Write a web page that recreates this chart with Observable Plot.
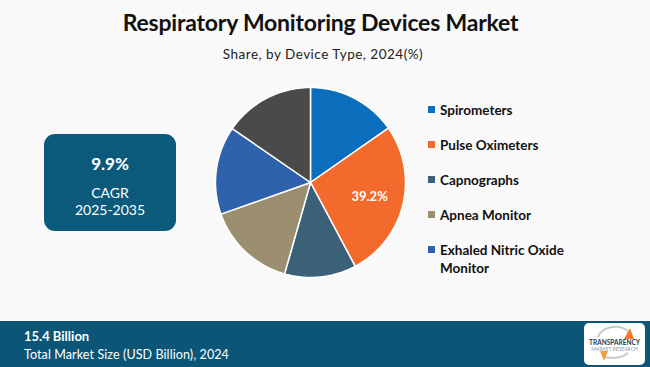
<!DOCTYPE html>
<html>
<head>
<meta charset="utf-8">
<script src="https://cdn.jsdelivr.net/npm/d3@7"></script>
<script src="https://cdn.jsdelivr.net/npm/@observablehq/plot@0.6"></script>
<style>
  html, body { margin: 0; padding: 0; }
  #wrap { position: relative; width: 650px; height: 367px; background: #f9f9f9; overflow: hidden; font-family: Lato, "Open Sans", sans-serif; }
  #chart { position: absolute; left: 0; top: 0; }
  .abs { position: absolute; white-space: nowrap; }
  #title { left: 0; width: 641px; top: 8px; text-align: center; font-weight: 700; font-size: 23px; color: #111; letter-spacing: -0.2px; }
  #subtitle { left: 0; width: 646px; top: 46px; text-align: center; font-size: 13.5px; letter-spacing: 0.5px; color: #222; }
  #cagr { left: 44px; top: 134px; width: 132px; height: 97px; background: #0b5a7c; border-radius: 11px; color: #fff; text-align: center; }
  #band { left: 0; top: 321px; width: 650px; height: 46px; background: #0b5577; }
  .leg { position: absolute; left: 428px; font-weight: 700; font-size: 13.5px; color: #111; line-height: 18px; }
  .sw { position: absolute; left: 0; top: 5px; width: 7px; height: 7px; }
  .leg span.t { display: block; margin-left: 12px; }
  #logo { left: 584px; top: 323px; width: 61px; height: 42px; background: #fff; border-radius: 5px; }
</style>
</head>
<body>
<div id="wrap">
  <div id="chart"></div>
  <div class="abs" id="title"></div>
  <div class="abs" id="subtitle"></div>
  <div class="abs" id="cagr"></div>
  <div class="abs" id="band"></div>
  <div id="legend"></div>
  <div class="abs" id="logo"></div>
</div>
<script>
// ---- data ----
const categories = ["Spirometers", "Pulse Oximeters", "Capnographs", "Apnea Monitor", "Exhaled Nitric Oxide Monitor", "Others"];
const shares = [15.3, 26.9, 12.2, 15.2, 15.0, 15.4];
const sliceLabels = ["", "39.2%", "", "", "", ""];
const colors = ["#0a6ebd", "#f26a2c", "#3b6179", "#9c8f6f", "#2f62ad", "#4a4a4a"];
const legendItems = ["Spirometers", "Pulse Oximeters", "Capnographs", "Apnea Monitor", "Exhaled Nitric Oxide Monitor"];
const titleText = "Respiratory Monitoring Devices Market";
const subtitleText = "Share, by Device Type, 2024(%)";
const cagrValue = "9.9%";
const cagrLabel = "CAGR";
const cagrPeriod = "2025-2035";
const marketSize = "15.4 Billion";
const marketLabel = "Total Market Size (USD Billion), 2024";

// ---- pie geometry from data ----
const pie = d3.pie().sort(null).value(d => d.value);
const rows = categories.map((c, i) => ({category: c, value: shares[i], label: sliceLabels[i]}));
const arcs = pie(rows);
const features = arcs.map(a => {
  const pts = [[0, 0]];
  const n = Math.max(2, Math.ceil((a.endAngle - a.startAngle) / 0.01));
  for (let k = 0; k <= n; k++) {
    const t = a.startAngle + (a.endAngle - a.startAngle) * k / n;
    pts.push([Math.sin(t), Math.cos(t)]);
  }
  pts.push([0, 0]);
  return {type: "Feature", properties: {category: a.data.category}, geometry: {type: "Polygon", coordinates: [pts]}};
});
const labelPts = arcs.filter(a => a.data.label).map(a => {
  const m = (a.startAngle + a.endAngle) / 2;
  return {x: 0.64 * Math.sin(m), y: 0.64 * Math.cos(m), text: a.data.label};
});

const projection = d3.geoIdentity().reflectY(true).scale(95).translate([310, 182]);

const plot = Plot.plot({
  width: 650,
  height: 367,
  margin: 0,
  style: {background: "transparent"},
  projection,
  color: {domain: categories, range: colors},
  marks: [
    Plot.geo(features, {fill: d => d.properties.category, stroke: "#ffffff", strokeWidth: 1.5}),
    Plot.text(labelPts, {x: "x", y: "y", text: "text", fill: "#ffffff", fontWeight: "bold", fontSize: 13, fontFamily: "Lato, sans-serif"})
  ]
});
document.getElementById("chart").appendChild(plot);

// ---- texts ----
document.getElementById("title").textContent = titleText;
document.getElementById("subtitle").textContent = subtitleText;
document.getElementById("cagr").innerHTML =
  `<div style="position:absolute;left:0;right:0;top:19px;font-weight:700;font-size:17px;">${cagrValue}</div>
   <div style="position:absolute;left:0;right:0;top:50px;font-size:14px;">${cagrLabel}</div>
   <div style="position:absolute;left:0;right:0;top:67px;font-size:14px;">${cagrPeriod}</div>`;
document.getElementById("band").innerHTML =
  `<div style="position:absolute;left:24px;top:7px;font-weight:700;font-size:13px;color:#fff;">${marketSize}</div>
   <div style="position:absolute;left:24px;top:26px;font-size:12.5px;letter-spacing:0.1px;color:#fff;">${marketLabel}</div>`;

const legendTops = [101, 136, 171, 206, 241];
const leg = document.getElementById("legend");
legendItems.forEach((name, i) => {
  const d = document.createElement("div");
  d.className = "leg";
  d.style.top = legendTops[i] + "px";
  const words = name === "Exhaled Nitric Oxide Monitor" ? "Exhaled Nitric Oxide<br>Monitor" : name;
  d.innerHTML = `<div class="sw" style="background:${colors[categories.indexOf(name)]}"></div><span class="t">${words}</span>`;
  leg.appendChild(d);
});

document.getElementById("logo").innerHTML =
  `<svg width="61" height="42" style="position:absolute;left:0;top:0">
     <path d="M14 14 A18 14 0 0 1 44 8" fill="none" stroke="#c9c9c9" stroke-width="2"/>
     <path d="M40 16 L46 5 L50 16 Z" fill="#f07a2a"/>
     <path d="M44 30 A18 10 0 0 1 18 33" fill="none" stroke="#c9c9c9" stroke-width="2"/>
     <path d="M16 28 L20 38 L24 28 Z" fill="#f0a040"/>
     <text x="30.5" y="22" text-anchor="middle" font-family="Lato, sans-serif" font-weight="700" font-size="6.5" fill="#2b3a4a">TRANSPARENCY</text>
     <text x="30.5" y="28" text-anchor="middle" font-family="Lato, sans-serif" font-size="5" fill="#8a9aa8">MARKET RESEARCH</text>
   </svg>`;
</script>
</body>
</html>
